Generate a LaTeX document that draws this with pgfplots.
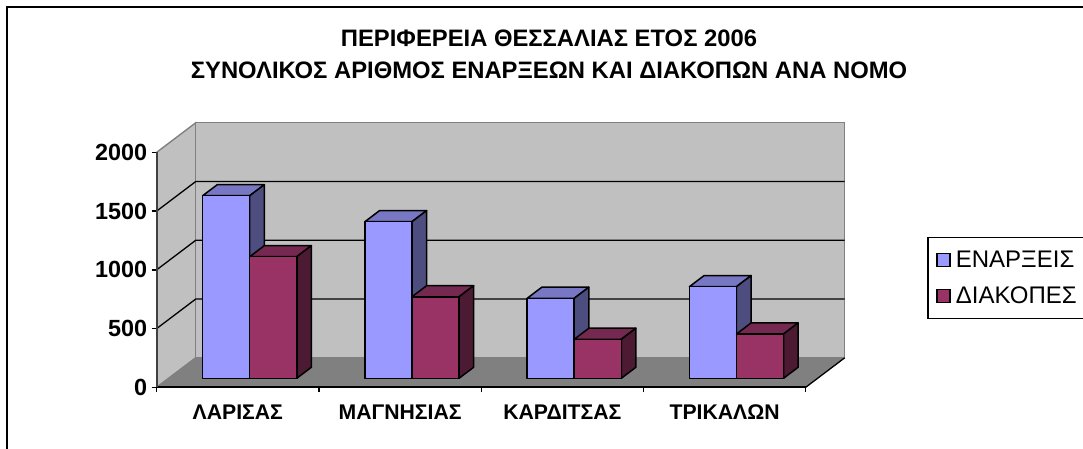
\documentclass[border=0pt]{standalone}
\usepackage{fontspec}
\setmainfont{Liberation Sans}
\usepackage{pgfplots}
\pgfplotsset{compat=1.18}
\definecolor{barblue}{HTML}{9999FF}
\definecolor{bluetop}{HTML}{7777C4}
\definecolor{blueside}{HTML}{4D4D80}
\definecolor{barred}{HTML}{993366}
\definecolor{redtop}{HTML}{752850}
\definecolor{redside}{HTML}{4D1A33}
\definecolor{wallgray}{HTML}{C0C0C0}
\definecolor{floorgray}{HTML}{808080}

% one box: left edge, right edge, value, three face colours
\newcommand{\threedbar}[6]{
  \addplot3[draw=black, line width=1.5pt, line join=round, fill=#5] coordinates
    {(#1,0.305,#3)(#2,0.305,#3)(#2,0.68,#3)(#1,0.68,#3)} --cycle;
  \addplot3[draw=black, line width=1.5pt, line join=round, fill=#6] coordinates
    {(#2,0.305,0)(#2,0.68,0)(#2,0.68,#3)(#2,0.305,#3)} --cycle;
  \addplot3[draw=black, line width=1.5pt, line join=round, fill=#4] coordinates
    {(#1,0.305,0)(#2,0.305,0)(#2,0.305,#3)(#1,0.305,#3)} --cycle;
}

\begin{document}
\begin{tikzpicture}[x=1pt,y=1pt]
\path[use as bounding box, clip] (0,0) rectangle (1083,448);
\draw[line width=2pt] (6.5,-5) -- (6.5,440.5) -- (1090,440.5);

% walls, floor and bars
\begin{axis}[
  at={(156.7pt,60.7pt)}, anchor=origin,
  x={(162.25pt,0pt)}, y={(39pt,29.5pt)}, z={(0pt,0.1175pt)},
  xmin=0, xmax=4, ymin=0, ymax=1, zmin=0, zmax=2000,
  hide axis, clip=false,
]
\addplot3[draw=floorgray, line width=1.4pt, fill=wallgray] coordinates
  {(0,0,0)(0,1,0)(0,1,2000)(0,0,2000)} --cycle;
\addplot3[draw=floorgray, line width=1.4pt, fill=wallgray] coordinates
  {(0,1,0)(4,1,0)(4,1,2000)(0,1,2000)} --cycle;
\addplot3[draw=none, fill=floorgray] coordinates
  {(0,0,0)(4,0,0)(4,1,0)(0,1,0)} --cycle;
\addplot3[black, line width=1.3pt] coordinates {(4,0,0)(4,1,0)};
\addplot3[floorgray, line width=1pt] coordinates {(0,0,0)(0,1,0)};
\addplot3[black, line width=1.3pt] coordinates {(0,0,500)(0,1,500)(4,1,500)};
\addplot3[black, line width=1.3pt] coordinates {(0,0,1000)(0,1,1000)(4,1,1000)};
\addplot3[black, line width=1.3pt] coordinates {(0,0,1500)(0,1,1500)(4,1,1500)};

\threedbar{0.21}{0.50}{1554}{barblue}{bluetop}{blueside}
\threedbar{0.50}{0.79}{1035}{barred}{redtop}{redside}
\threedbar{1.21}{1.50}{1333}{barblue}{bluetop}{blueside}
\threedbar{1.50}{1.79}{694}{barred}{redtop}{redside}
\threedbar{2.21}{2.50}{681}{barblue}{bluetop}{blueside}
\threedbar{2.50}{2.79}{332}{barred}{redtop}{redside}
\threedbar{3.21}{3.50}{780}{barblue}{bluetop}{blueside}
\threedbar{3.50}{3.79}{377}{barred}{redtop}{redside}
\end{axis}

% front axes with ticks, labels and legend
\begin{axis}[
  at={(156.7pt,60.7pt)}, anchor=origin,
  scale only axis, width=649pt, height=235pt,
  xmin=0, xmax=4, ymin=0, ymax=2000,
  axis x line=bottom, axis y line=left,
  axis line style={-, line width=1.7pt},
  y axis line style={draw=black!75},
  tick style={black, line width=1.4pt},
  tick align=outside, major tick length=5pt,
  xtick={0,1,2,3,4}, xticklabels={},
  extra x ticks={0.5,1.5,2.5,3.5},
  extra x tick labels={ΛΑΡΙΣΑΣ,ΜΑΓΝΗΣΙΑΣ,ΚΑΡΔΙΤΣΑΣ,ΤΡΙΚΑΛΩΝ},
  extra x tick style={major tick length=0pt, tick label style={yshift=-14pt}},
  ytick={0,500,1000,1500,2000},
  /pgf/number format/assume math mode=true,
  /pgf/number format/set thousands separator={},
  tick label style={font=\fontsize{23.4}{26}\selectfont\bfseries},
  x tick label style={font=\fontsize{21.2}{24}\selectfont\bfseries},
  y tick label style={xshift=-1pt},
  legend style={at={(1.1874,0.6409)}, anchor=north west,
    draw=black, line width=1.5pt, font=\fontsize{24}{26}\selectfont,
    inner xsep=8pt, inner ysep=11.5pt, row sep=14pt, cells={anchor=west}},
  legend cell align=left,
  legend image code/.code={
    \draw[#1, line width=1.6pt] (0pt,-6.5pt) rectangle (13pt,6.5pt);
    \path[draw=none, fill=none] (0pt,0pt) -- (17pt,0pt);
  },
]
\addlegendimage{draw=black, fill=barblue}
\addlegendentry{ΕΝΑΡΞΕΙΣ}
\addlegendimage{draw=black, fill=barred}
\addlegendentry{ΔΙΑΚΟΠΕΣ}
\end{axis}

\node[align=center, font=\fontsize{23.8}{32}\selectfont\bfseries] at (549,393.5)
  {ΠΕΡΙΦΕΡΕΙΑ ΘΕΣΣΑΛΙΑΣ ΕΤΟΣ 2006\\ΣΥΝΟΛΙΚΟΣ ΑΡΙΘΜΟΣ ΕΝΑΡΞΕΩΝ ΚΑΙ ΔΙΑΚΟΠΩΝ ΑΝΑ ΝΟΜΟ};
\end{tikzpicture}
\end{document}
